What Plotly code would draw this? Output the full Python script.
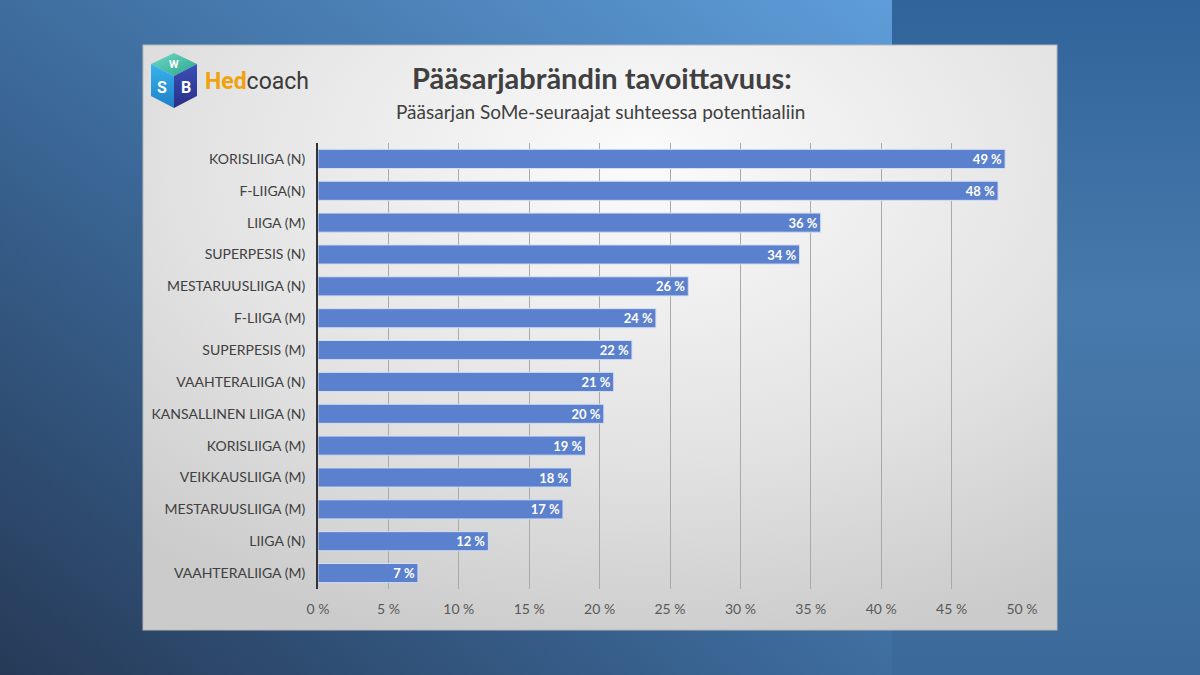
import base64
import plotly.graph_objects as go

categories = [
    "KORISLIIGA (N)", "F-LIIGA(N)", "LIIGA (M)", "SUPERPESIS (N)",
    "MESTARUUSLIIGA (N)", "F-LIIGA (M)", "SUPERPESIS (M)", "VAAHTERALIIGA (N)",
    "KANSALLINEN LIIGA (N)", "KORISLIIGA (M)", "VEIKKAUSLIIGA (M)",
    "MESTARUUSLIIGA (M)", "LIIGA (N)", "VAAHTERALIIGA (M)",
]
values = [48.8, 48.3, 35.7, 34.2, 26.3, 24.0, 22.3, 21.0, 20.3, 19.0, 18.0, 17.4, 12.1, 7.1]
tick_vals = [0, 5, 10, 15, 20, 25, 30, 35, 40, 45, 50]
tick_text = ["0 %", "5 %", "10 %", "15 %", "20 %", "25 %", "30 %", "35 %", "40 %", "45 %", "50 %"]

title_text = "Pääsarjabrändin tavoittavuus:"
subtitle_text = "Pääsarjan SoMe-seuraajat suhteessa potentiaaliin"

W, H = 1200, 675
ML, MR, MT, MB = 318, 178, 143, 86
PW, PH = W - ML - MR, H - MT - MB

def px(x):
    return (x - ML) / PW

def py(y):
    return 1 - (y - MT) / PH

svg = f"""<svg xmlns='http://www.w3.org/2000/svg' width='{W}' height='{H}' viewBox='0 0 {W} {H}' preserveAspectRatio='none'>
<defs>
<linearGradient id='g1' x1='0' y1='1' x2='1' y2='0'>
<stop offset='0' stop-color='#263a57'/><stop offset='0.45' stop-color='#3b6898'/><stop offset='1' stop-color='#5e9dd9'/>
</linearGradient>
<linearGradient id='g2' x1='0' y1='0' x2='0' y2='1'>
<stop offset='0' stop-color='#30649a'/><stop offset='0.45' stop-color='#4879ac'/><stop offset='1' stop-color='#3b6a99'/>
</linearGradient>
<radialGradient id='p' cx='0.55' cy='0.2' r='0.85'>
<stop offset='0' stop-color='#fbfbfb'/><stop offset='0.6' stop-color='#e2e2e2'/><stop offset='1' stop-color='#cbcbcb'/>
</radialGradient>
<linearGradient id='t' x1='0' y1='0' x2='1' y2='1'><stop offset='0' stop-color='#6fd8c4'/><stop offset='1' stop-color='#2aa78f'/></linearGradient>
<linearGradient id='l' x1='0' y1='0' x2='0' y2='1'><stop offset='0' stop-color='#37b4ec'/><stop offset='1' stop-color='#1f7fc8'/></linearGradient>
<linearGradient id='r' x1='0' y1='0' x2='0' y2='1'><stop offset='0' stop-color='#3b4fb8'/><stop offset='1' stop-color='#2a2f86'/></linearGradient>
</defs>
<rect x='0' y='0' width='892' height='{H}' fill='url(#g1)'/>
<rect x='892' y='0' width='308' height='{H}' fill='url(#g2)'/>
<rect x='143' y='45' width='914' height='585' fill='url(#p)' stroke='#b8b8b8' stroke-width='1'/>
<polygon points='174,53 197,64 174,76 151,64' fill='url(#t)'/>
<polygon points='151,64 174,76 174,108 151,96' fill='url(#l)'/>
<polygon points='174,76 197,64 197,96 174,108' fill='url(#r)'/>
</svg>"""
src = "data:image/svg+xml;base64," + base64.b64encode(svg.encode("utf-8")).decode("ascii")

fig = go.Figure()
fig.add_trace(go.Bar(
    y=categories,
    x=values,
    orientation="h",
    width=0.6,
    marker=dict(color="#5b80cd", line=dict(color="#d3def2", width=1)),
    texttemplate="<b>%{x:.0f} %</b>",
    textposition="inside",
    insidetextanchor="end",
    textfont=dict(color="white", size=13, family="Lato"),
    constraintext="none",
    hoverinfo="skip",
))

fig.add_layout_image(dict(
    source=src, xref="paper", yref="paper",
    x=px(0), y=py(0), sizex=W / PW, sizey=H / PH,
    xanchor="left", yanchor="top", sizing="stretch", layer="below",
))

annotations = [
    dict(text=f"<b>{title_text}</b>", x=px(602), y=py(78), xref="paper", yref="paper",
         showarrow=False, font=dict(family="Lato", size=29, color="#404040"),
         xanchor="center", yanchor="middle"),
    dict(text=subtitle_text, x=px(600), y=py(111), xref="paper", yref="paper",
         showarrow=False, font=dict(family="Lato", size=19, color="#404040"),
         xanchor="center", yanchor="middle"),
    dict(text="<b><span style='color:#efa20c'>Hed</span></b>coach", x=px(203), y=py(82),
         xref="paper", yref="paper", showarrow=False,
         font=dict(family="Roboto", size=23, color="#3a3a3a"),
         xanchor="left", yanchor="middle"),
    dict(text="<b>W</b>", x=px(174), y=py(64), xref="paper", yref="paper", showarrow=False,
         font=dict(family="Roboto", size=11, color="white"), xanchor="center", yanchor="middle"),
    dict(text="<b>S</b>", x=px(162), y=py(87), xref="paper", yref="paper", showarrow=False,
         font=dict(family="Roboto", size=16, color="white"), xanchor="center", yanchor="middle"),
    dict(text="<b>B</b>", x=px(186), y=py(87), xref="paper", yref="paper", showarrow=False,
         font=dict(family="Roboto", size=16, color="white"), xanchor="center", yanchor="middle"),
]

fig.update_layout(
    width=W, height=H,
    margin=dict(l=ML, r=MR, t=MT, b=MB, pad=0),
    paper_bgcolor="#3a6593",
    plot_bgcolor="rgba(0,0,0,0)",
    showlegend=False,
    bargap=0.4,
    annotations=annotations,
    xaxis=dict(
        range=[0, 50], tickmode="array", tickvals=tick_vals, ticktext=tick_text,
        showgrid=True, gridcolor="#a9a9a9", gridwidth=1,
        zeroline=False, showline=False,
        tickfont=dict(family="Lato", size=14, color="#595959"),
        ticks="", ticklabelstandoff=10, fixedrange=True,
    ),
    yaxis=dict(
        autorange="reversed", showgrid=False, zeroline=False,
        showline=True, linecolor="#333333", linewidth=2,
        tickfont=dict(family="Lato", size=14, color="#404040"),
        ticks="", ticklabelstandoff=8, fixedrange=True,
    ),
)

fig.write_html(
    "out.html",
    config={"displayModeBar": False},
    post_script="document.body.style.margin='0';",
)
